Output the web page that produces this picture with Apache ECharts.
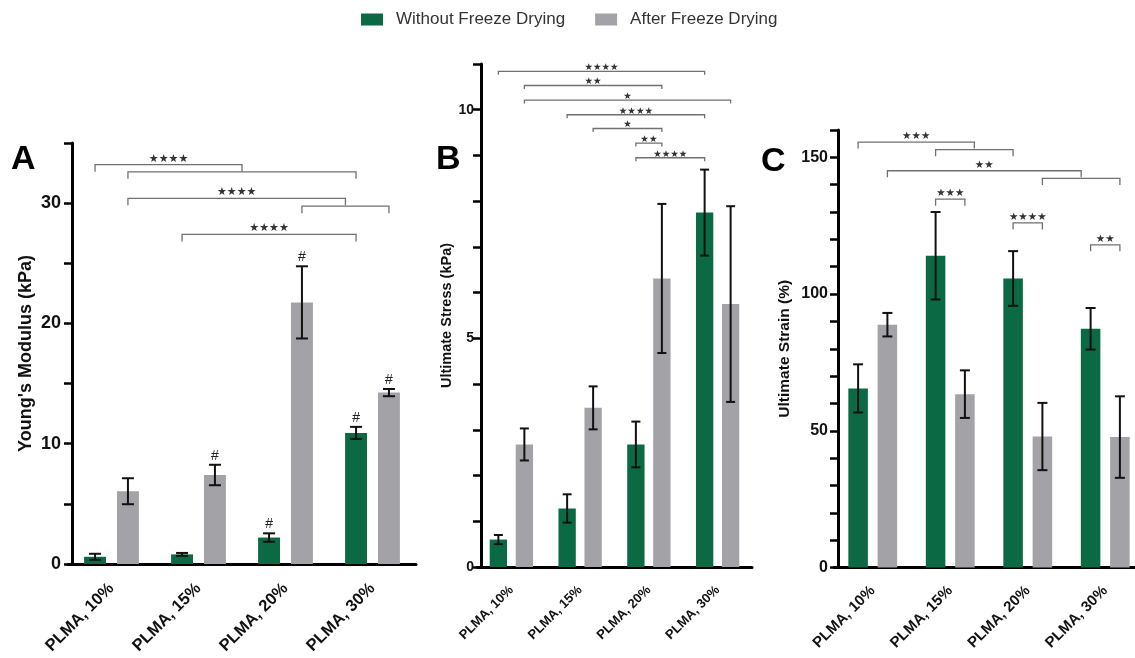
<!DOCTYPE html>
<html><head><meta charset="utf-8">
<script src="https://cdn.jsdelivr.net/npm/echarts@6/dist/echarts.min.js"></script>
<style>html,body{margin:0;padding:0;background:#fff}#c{width:1135px;height:658px}</style>
</head><body><div id="c"></div>
<script>
// ---------- data ----------
const categories = ['PLMA, 10%', 'PLMA, 15%', 'PLMA, 20%', 'PLMA, 30%'];
const seriesNames = ['Without Freeze Drying', 'After Freeze Drying'];

// Panel A: Young's Modulus (kPa)
const modulusWithout    = [0.6, 0.8, 2.2, 10.9];
const modulusWithoutErr = [0.25, 0.12, 0.35, 0.5];
const modulusAfter      = [6.05, 7.4, 21.75, 14.25];
const modulusAfterErr   = [1.08, 0.85, 3.0, 0.3];
const modulusHashWithout = [0, 0, 1, 1];
const modulusHashAfter   = [0, 1, 1, 1];

// Panel B: Ultimate Stress (kPa)
const stressWithout    = [0.6, 1.28, 2.68, 7.75];
const stressWithoutErr = [0.1, 0.31, 0.5, 0.94];
const stressAfter      = [2.68, 3.48, 6.31, 5.75];
const stressAfterErr   = [0.35, 0.47, 1.63, 2.14];

// Panel C: Ultimate Strain (%)
const strainWithout    = [65.5, 114, 105.7, 87.3];
const strainWithoutErr = [8.8, 16, 10, 7.6];
const strainAfter      = [88.8, 63.4, 47.9, 47.7];
const strainAfterErr   = [4.3, 8.7, 12.3, 14.9];

// significance brackets: [left bars, right bars (averaged), level, number of stars]; bar = [category, series]
const bracketsA = [
  [[[0,0]], [[0,1],[3,0]], 33.2, 4],
  [[[0,1]], [[3,0]], 32.6, 0],
  [[[0,1]], [[2,1],[3,1]], 30.4, 4],
  [[[2,1]], [[3,1]], 29.75, 0],
  [[[1,0]], [[3,0]], 27.4, 4]
];
const bracketsB = [
  [[[0,0]], [[3,0]], 10.84, 4],
  [[[0,1]], [[2,1]], 10.53, 2],
  [[[0,1]], [[3,1]], 10.21, 1],
  [[[1,0]], [[3,0]], 9.89, 4],
  [[[1,1]], [[2,1]], 9.59, 1],
  [[[2,0]], [[2,1]], 9.27, 2],
  [[[2,0]], [[3,0]], 8.95, 4]
];
const bracketsC = [
  [[[0,0]], [[1,0],[2,0]], 155.6, 3],
  [[[1,0]], [[2,0]], 152.8, 0],
  [[[0,1]], [[2,1],[3,1]], 145.1, 2],
  [[[2,1]], [[3,1]], 142.3, 0],
  [[[1,0]], [[1,1]], 134.7, 3],
  [[[2,0]], [[2,1]], 126, 4],
  [[[3,0]], [[3,1]], 118, 2]
];

// ---------- style ----------
const GREEN = '#0b6a43', GREY = '#a3a3a7';
const FONT = "'Liberation Sans', Arial, sans-serif";
const STAR_FONT = "'DejaVu Sans', sans-serif";
const CAT_GAP = 0.37, BAR_GAP = 0.5;

function barX(api, g, s) {
  const band = api.size([1, 0])[0];
  const w = band * (1 - CAT_GAP) / (2 + BAR_GAP);
  const off = (w + w * BAR_GAP) / 2;
  return api.coord([g, 0])[0] + (s === 0 ? -off : off);
}

function barSeries(idx, s, values) {
  return {
    type: 'bar', name: seriesNames[s], xAxisIndex: idx, yAxisIndex: idx,
    data: values, barGap: (BAR_GAP * 100) + '%', barCategoryGap: (CAT_GAP * 100) + '%',
    itemStyle: { color: s === 0 ? GREEN : GREY }, silent: true, z: 2
  };
}

function errSeries(idx, s, values, errs, hashes, cap) {
  return {
    type: 'custom', xAxisIndex: idx, yAxisIndex: idx, silent: true, z: 4,
    data: values.map((v, i) => [i, v, errs[i], hashes ? hashes[i] : 0]),
    encode: { x: 0, y: 1 },
    renderItem: (params, api) => {
      const g = api.value(0), v = api.value(1), e = api.value(2), h = api.value(3);
      const x = barX(api, g, s);
      const yt = api.coord([g, v + e])[1], yb = api.coord([g, v - e])[1];
      const st = { stroke: '#111', lineWidth: 2 };
      const ch = [
        { type: 'line', shape: { x1: x, y1: yt, x2: x, y2: yb }, style: st },
        { type: 'line', shape: { x1: x - cap, y1: yt, x2: x + cap, y2: yt }, style: st },
        { type: 'line', shape: { x1: x - cap, y1: yb, x2: x + cap, y2: yb }, style: st }
      ];
      if (h) ch.push({ type: 'text', style: { text: '#', x: x, y: yt - 2, align: 'center', verticalAlign: 'bottom', font: '14px ' + FONT, fill: '#222' } });
      return { type: 'group', children: ch };
    }
  };
}

function bracketSeries(idx, list, leg, fs, lift) {
  return {
    type: 'custom', xAxisIndex: idx, yAxisIndex: idx, silent: true, z: 5,
    data: list.map(b => [0, b[2]]),
    encode: { x: 0, y: 1 },
    renderItem: (params, api) => {
      const b = list[params.dataIndex];
      const mean = arr => arr.reduce((a, p) => a + barX(api, p[0], p[1]), 0) / arr.length;
      const xl = mean(b[0]), xr = mean(b[1]);
      const y = api.coord([0, b[2]])[1];
      const ch = [{ type: 'polyline', shape: { points: [[xl, y + leg], [xl, y], [xr, y], [xr, y + leg]] }, style: { stroke: '#707070', lineWidth: 1.3, fill: null } }];
      if (b[3]) ch.push({ type: 'text', style: { text: '\u2605'.repeat(b[3]), x: (xl + xr) / 2, y: y - lift, align: 'center', verticalAlign: 'middle', font: fs + 'px ' + STAR_FONT, fill: '#333' } });
      return { type: 'group', children: ch };
    }
  };
}

const grids = [
  { left: 68, top: 143, width: 348, height: 421, outerBoundsMode: 'none', containLabel: false },
  { left: 477, top: 64, width: 275, height: 503, outerBoundsMode: 'none', containLabel: false },
  { left: 834, top: 130, width: 310, height: 437.5, outerBoundsMode: 'none', containLabel: false }
];
const xFont = [16.5, 13, 15];
const xMargin = [22, 21, 21];
const yCfg = [
  { max: 35, interval: 5, step: 10, name: "Young's Modulus (kPa)", nameSize: 18, nameGap: 37, labelSize: 18, margin: 11 },
  { max: 11, interval: 1, step: 5, name: 'Ultimate Stress (kPa)', nameSize: 14.5, nameGap: 27, labelSize: 14, margin: 7 },
  { max: 160, interval: 10, step: 50, name: 'Ultimate Strain (%)', nameSize: 15.5, nameGap: 45, labelSize: 16, margin: 10 }
];

const option = {
  animation: false,
  backgroundColor: '#fff',
  textStyle: { fontFamily: FONT },
  legend: {
    data: seriesNames, left: 356, top: 6, itemWidth: 22, itemHeight: 12, itemGap: 30,
    icon: 'rect', textStyle: { fontSize: 17, color: '#333', fontFamily: FONT, padding: [0, 0, 0, 8] }
  },
  grid: grids,
  xAxis: grids.map((g, i) => ({
    type: 'category', gridIndex: i, data: categories,
    axisLine: { lineStyle: { color: '#000', width: 3 } },
    axisTick: { alignWithLabel: true, length: 7, lineStyle: { color: '#000', width: 2.5 } },
    axisLabel: { rotate: 45, interval: 0, margin: xMargin[i], fontSize: xFont[i], fontWeight: 'bold', color: '#111', fontFamily: FONT }
  })),
  yAxis: yCfg.map((c, i) => ({
    type: 'value', gridIndex: i, min: 0, max: c.max, interval: c.interval, offset: -4,
    name: c.name, nameLocation: 'middle', nameRotate: 90, nameGap: c.nameGap,
    nameTextStyle: { fontSize: c.nameSize, fontWeight: 'bold', color: '#111', fontFamily: FONT },
    axisLine: { show: true, lineStyle: { color: '#000', width: 3 } },
    axisTick: { show: true, length: 8, lineStyle: { color: '#000', width: 2.5 } },
    splitLine: { show: false },
    axisLabel: { margin: c.margin, fontSize: c.labelSize, fontWeight: 'bold', color: '#111', fontFamily: FONT,
      formatter: v => (Math.round(v) % c.step === 0 ? String(v) : '') }
  })),
  graphic: [
    { type: 'text', left: 11, top: 143, style: { text: 'A', font: 'bold 34px ' + FONT, fill: '#000' } },
    { type: 'text', left: 436, top: 143, style: { text: 'B', font: 'bold 34px ' + FONT, fill: '#000' } },
    { type: 'text', left: 761, top: 145, style: { text: 'C', font: 'bold 34px ' + FONT, fill: '#000' } }
  ],
  series: [
    barSeries(0, 0, modulusWithout), barSeries(0, 1, modulusAfter),
    barSeries(1, 0, stressWithout), barSeries(1, 1, stressAfter),
    barSeries(2, 0, strainWithout), barSeries(2, 1, strainAfter),
    errSeries(0, 0, modulusWithout, modulusWithoutErr, modulusHashWithout, 6),
    errSeries(0, 1, modulusAfter, modulusAfterErr, modulusHashAfter, 6),
    errSeries(1, 0, stressWithout, stressWithoutErr, null, 4.5),
    errSeries(1, 1, stressAfter, stressAfterErr, null, 4.5),
    errSeries(2, 0, strainWithout, strainWithoutErr, null, 5),
    errSeries(2, 1, strainAfter, strainAfterErr, null, 5),
    bracketSeries(0, bracketsA, 7, 11, 6),
    bracketSeries(1, bracketsB, 3.5, 9.5, 3.5),
    bracketSeries(2, bracketsC, 6.5, 10.5, 5.5)
  ]
};
const chart = echarts.init(document.getElementById('c'), null, { renderer: 'canvas' });
chart.setOption(option);
</script>
</body></html>
